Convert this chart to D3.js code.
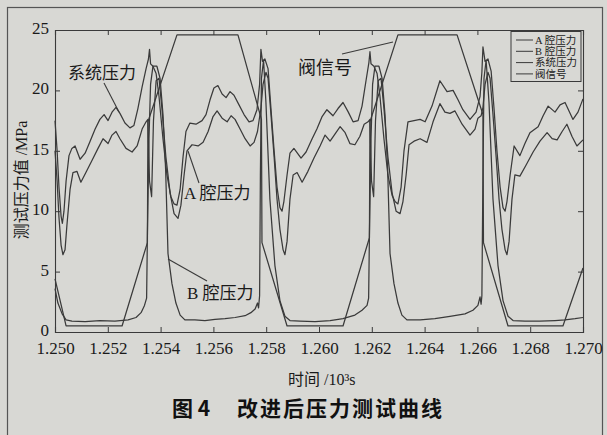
<!DOCTYPE html>
<html>
<head>
<meta charset="utf-8">
<script src="https://cdn.jsdelivr.net/npm/d3@7"></script>
<style>
  body { margin: 0; background: #d8d8d4; }
  svg { display: block; }
</style>
</head>
<body>
<div id="chart"></div>
<script>
// tick values
var xTicks = [1.250, 1.252, 1.254, 1.256, 1.258, 1.260, 1.262, 1.264, 1.266, 1.268, 1.270];
var yTicks = [0, 5, 10, 15, 20, 25];
var legendNames = ["A 腔压力", "B 腔压力", "系统压力", "阀信号"];

// [time /10^3 s, pressure /MPa]
var aPressure = [[1.25000,15.0],[1.25008,12.5],[1.25015,9.5],[1.25023,7.2],[1.25030,6.4],[1.25038,6.8],[1.25045,8.8],[1.25057,11.8],[1.25068,13.2],[1.25083,13.3],[1.25098,12.4],[1.25117,13.2],[1.25140,14.2],[1.25163,15.2],[1.25182,16.0],[1.25201,15.6],[1.25216,16.3],[1.25231,16.6],[1.25246,16.0],[1.25269,15.2],[1.25292,14.9],[1.25311,15.4],[1.25330,16.8],[1.25345,17.4],[1.25352,17.6],[1.25358,12.5],[1.25366,11.2],[1.25373,17.5],[1.25383,20.8],[1.25394,21.0],[1.25405,18.5],[1.25420,14.5],[1.25436,11.5],[1.25451,9.8],[1.25466,9.4],[1.25477,10.5],[1.25489,13.0],[1.25500,15.0],[1.25519,15.5],[1.25542,15.4],[1.25561,15.7],[1.25580,16.6],[1.25598,17.8],[1.25614,18.3],[1.25633,17.7],[1.25652,17.4],[1.25667,17.9],[1.25682,17.6],[1.25701,16.8],[1.25720,16.0],[1.25739,15.4],[1.25754,15.7],[1.25767,16.6],[1.25775,17.8],[1.25780,18.5],[1.25788,20.5],[1.25799,21.5],[1.25807,21.0],[1.25818,18.0],[1.25830,14.5],[1.25841,11.0],[1.25852,8.5],[1.25864,6.8],[1.25871,6.4],[1.25879,7.5],[1.25890,11.0],[1.25902,13.0],[1.25917,13.2],[1.25936,12.4],[1.25958,13.3],[1.25981,14.4],[1.26004,15.4],[1.26023,16.3],[1.26042,15.8],[1.26061,16.4],[1.26080,17.0],[1.26099,16.5],[1.26117,15.6],[1.26136,15.5],[1.26155,16.2],[1.26171,17.2],[1.26186,17.4],[1.26193,17.6],[1.26199,12.5],[1.26207,11.2],[1.26214,17.5],[1.26224,20.8],[1.26235,21.0],[1.26246,18.5],[1.26261,14.5],[1.26277,11.5],[1.26292,10.0],[1.26307,9.8],[1.26318,10.8],[1.26330,13.0],[1.26341,15.5],[1.26360,15.8],[1.26383,16.0],[1.26409,15.7],[1.26432,17.4],[1.26458,18.9],[1.26477,18.2],[1.26496,18.1],[1.26515,18.3],[1.26542,17.2],[1.26572,16.3],[1.26591,16.8],[1.26602,17.7],[1.26614,17.9],[1.26621,18.6],[1.26629,20.5],[1.26640,21.5],[1.26648,21.0],[1.26659,18.0],[1.26671,14.5],[1.26682,11.0],[1.26693,8.5],[1.26705,6.8],[1.26712,6.4],[1.26720,7.5],[1.26731,11.0],[1.26742,13.0],[1.26761,12.9],[1.26784,13.8],[1.26811,14.9],[1.26837,15.8],[1.26864,16.5],[1.26883,16.0],[1.26902,15.9],[1.26921,16.6],[1.26939,17.2],[1.26958,16.2],[1.26977,15.4],[1.27000,15.9]];

var bPressure = [[1.25000,3.6],[1.25011,2.4],[1.25027,1.5],[1.25042,1.0],[1.25064,0.9],[1.25114,0.85],[1.25170,0.95],[1.25227,0.9],[1.25277,1.0],[1.25307,1.2],[1.25326,1.6],[1.25339,2.2],[1.25347,2.8],[1.25350,8.0],[1.25356,16.0],[1.25362,20.5],[1.25371,22.0],[1.25386,22.0],[1.25398,21.0],[1.25409,18.0],[1.25419,13.5],[1.25428,6.5],[1.25443,4.0],[1.25458,2.4],[1.25474,1.4],[1.25492,1.0],[1.25530,1.0],[1.25568,0.95],[1.25606,1.05],[1.25644,1.1],[1.25682,1.2],[1.25720,1.35],[1.25742,1.6],[1.25758,1.9],[1.25767,2.4],[1.25771,2.0],[1.25775,3.0],[1.25778,13.0],[1.25782,21.0],[1.25790,22.5],[1.25799,19.0],[1.25814,11.0],[1.25833,5.5],[1.25852,2.6],[1.25871,1.3],[1.25890,0.95],[1.25928,0.9],[1.25985,0.85],[1.26042,0.95],[1.26091,1.1],[1.26136,1.4],[1.26163,1.8],[1.26182,2.2],[1.26188,2.8],[1.26191,8.0],[1.26197,16.0],[1.26203,20.5],[1.26212,22.0],[1.26227,22.0],[1.26239,21.0],[1.26250,18.0],[1.26260,13.5],[1.26269,6.5],[1.26284,4.0],[1.26299,2.4],[1.26314,1.4],[1.26333,1.0],[1.26383,1.0],[1.26439,1.1],[1.26496,1.3],[1.26553,1.5],[1.26583,1.8],[1.26602,2.2],[1.26610,2.9],[1.26614,2.3],[1.26617,3.0],[1.26621,13.0],[1.26625,21.0],[1.26633,22.5],[1.26644,19.0],[1.26659,11.0],[1.26678,5.5],[1.26697,2.6],[1.26716,1.3],[1.26735,0.95],[1.26780,0.9],[1.26837,0.9],[1.26894,0.95],[1.26932,1.0],[1.26970,1.1],[1.27000,1.2]];

var systemPressure = [[1.25000,17.5],[1.25008,15.0],[1.25015,12.0],[1.25023,9.6],[1.25028,9.0],[1.25034,10.0],[1.25042,12.5],[1.25053,14.6],[1.25064,15.2],[1.25076,15.4],[1.25095,14.3],[1.25114,14.8],[1.25133,15.8],[1.25152,16.8],[1.25170,17.6],[1.25186,18.0],[1.25201,17.5],[1.25216,18.2],[1.25231,18.6],[1.25246,18.1],[1.25265,17.3],[1.25284,16.9],[1.25299,17.1],[1.25314,18.5],[1.25330,20.3],[1.25345,21.8],[1.25354,22.6],[1.25358,23.4],[1.25362,22.2],[1.25371,22.0],[1.25383,21.4],[1.25394,19.5],[1.25409,16.0],[1.25424,13.0],[1.25439,11.2],[1.25451,10.6],[1.25462,10.5],[1.25474,11.8],[1.25485,14.5],[1.25496,16.6],[1.25511,17.3],[1.25534,17.2],[1.25557,17.5],[1.25572,18.0],[1.25587,19.2],[1.25602,20.2],[1.25617,20.4],[1.25633,19.7],[1.25648,19.4],[1.25663,19.9],[1.25678,19.6],[1.25697,18.8],[1.25716,18.0],[1.25735,17.4],[1.25750,17.5],[1.25765,18.4],[1.25775,20.5],[1.25780,23.4],[1.25786,22.4],[1.25795,22.6],[1.25807,21.8],[1.25818,18.5],[1.25830,15.0],[1.25841,12.0],[1.25852,10.3],[1.25860,10.0],[1.25867,10.8],[1.25879,13.0],[1.25890,14.8],[1.25905,15.2],[1.25932,14.4],[1.25951,14.9],[1.25974,16.0],[1.25992,16.8],[1.26011,17.8],[1.26030,18.4],[1.26053,17.9],[1.26072,18.5],[1.26091,19.0],[1.26111,18.2],[1.26129,17.4],[1.26148,17.5],[1.26163,18.7],[1.26178,20.8],[1.26189,22.3],[1.26193,23.2],[1.26197,22.2],[1.26208,22.0],[1.26220,21.4],[1.26231,19.5],[1.26246,16.0],[1.26261,13.0],[1.26277,11.3],[1.26288,10.8],[1.26299,10.6],[1.26311,12.0],[1.26322,15.0],[1.26337,17.4],[1.26360,17.5],[1.26383,17.6],[1.26402,17.4],[1.26428,18.7],[1.26458,20.8],[1.26485,19.9],[1.26508,20.0],[1.26527,19.2],[1.26545,18.4],[1.26572,17.6],[1.26595,18.2],[1.26610,19.5],[1.26617,21.5],[1.26621,23.6],[1.26629,22.4],[1.26640,22.6],[1.26652,21.6],[1.26663,18.5],[1.26674,15.0],[1.26686,12.0],[1.26697,10.3],[1.26705,10.0],[1.26712,10.8],[1.26724,13.0],[1.26739,15.4],[1.26761,14.6],[1.26780,15.6],[1.26799,16.5],[1.26830,17.0],[1.26849,17.9],[1.26868,18.7],[1.26894,18.2],[1.26913,18.8],[1.26932,19.0],[1.26947,18.3],[1.26962,17.6],[1.26981,18.2],[1.27000,19.3]];

var valveSignal = [[1.25000,4.4],[1.25042,0.5],[1.25254,0.5],[1.25350,7.4],[1.25352,17.4],[1.25462,24.6],[1.25693,24.6],[1.25782,17.6],[1.25784,7.4],[1.25879,0.5],[1.26091,0.5],[1.26191,7.8],[1.26193,17.4],[1.26299,24.6],[1.26523,24.6],[1.26621,18.0],[1.26623,7.4],[1.26716,0.5],[1.26924,0.5],[1.27000,5.3]];

var width = 607, height = 435;
var plotL = 55, plotR = 583, plotT = 30, plotB = 332;
var ink = "#3a3a3a";
var serif = "'Liberation Serif','Noto Sans CJK SC',serif";
var cjk = "'Noto Sans CJK SC',sans-serif";

var svg = d3.select("#chart")
  .append("svg")
  .attr("width", width)
  .attr("height", height);

svg.append("rect")
  .attr("width", width).attr("height", height)
  .attr("fill", "#d8d8d4");

// outer frame of the figure
svg.append("rect")
  .attr("x", 7.5).attr("y", 7.5)
  .attr("width", 595).attr("height", 440)
  .attr("fill", "none").attr("stroke", "#555").attr("stroke-width", 1.2);

var x = d3.scaleLinear().domain([1.250, 1.270]).range([plotL, plotR]);
var y = d3.scaleLinear().domain([0, 25]).range([plotB, plotT]);

// axes, ticks pointing inwards on all four sides
var gx = svg.append("g").attr("transform", "translate(0," + plotB + ")")
  .call(d3.axisBottom(x).tickValues(xTicks).tickSize(-5).tickPadding(10).tickFormat(d3.format(".3f")));
var gxt = svg.append("g").attr("transform", "translate(0," + plotT + ")")
  .call(d3.axisTop(x).tickValues(xTicks).tickSize(-5).tickFormat(""));
var gy = svg.append("g").attr("transform", "translate(" + plotL + ",0)")
  .call(d3.axisLeft(y).tickValues(yTicks).tickSize(-5).tickPadding(6));
var gyr = svg.append("g").attr("transform", "translate(" + plotR + ",0)")
  .call(d3.axisRight(y).tickValues(yTicks).tickSize(-5).tickFormat(""));

[gx, gxt, gy, gyr].forEach(function(g) {
  g.selectAll("path.domain").attr("stroke", ink).attr("stroke-width", 1.1);
  g.selectAll(".tick line").attr("stroke", ink);
  g.selectAll("text")
    .attr("fill", "#1a1a1a")
    .style("font-family", serif)
    .style("font-size", "17px");
});
gy.selectAll("text").attr("dy", "0.2em");

// curves
var line = d3.line()
  .x(function(d) { return x(d[0]); })
  .y(function(d) { return y(d[1]); });

[aPressure, bPressure, systemPressure, valveSignal].forEach(function(s) {
  svg.append("path")
    .datum(s)
    .attr("d", line)
    .attr("fill", "none")
    .attr("stroke", ink)
    .attr("stroke-width", 1.25)
    .attr("stroke-linejoin", "round");
});

// legend
var lg = svg.append("g");
lg.append("rect")
  .attr("x", 511).attr("y", 31.5).attr("width", 70).attr("height", 50)
  .attr("fill", "#d8d8d4").attr("stroke", ink).attr("stroke-width", 1);
legendNames.forEach(function(name, i) {
  var ly = 40 + i * 11.3;
  lg.append("line")
    .attr("x1", 516).attr("x2", 533).attr("y1", ly).attr("y2", ly)
    .attr("stroke", ink).attr("stroke-width", 1);
  lg.append("text")
    .attr("x", 535).attr("y", ly)
    .attr("dy", "0.35em")
    .style("font-family", serif)
    .style("font-size", "10.5px")
    .attr("fill", "#222")
    .text(name);
});

// annotations with leader lines
var notes = [
  { text: "系统压力", tx: 68, ty: 73, x1: 104, y1: 83, x2: 119, y2: 112, size: 17 },
  { text: "A 腔压力", tx: 184, ty: 193, x1: 199, y1: 183, x2: 188, y2: 151, size: 17 },
  { text: "B 腔压力", tx: 187, ty: 293, x1: 207, y1: 281, x2: 168, y2: 259, size: 17 },
  { text: "阀信号", tx: 298, ty: 68, x1: 342, y1: 54, x2: 393, y2: 42, size: 18 }
];
notes.forEach(function(n) {
  svg.append("line")
    .attr("x1", n.x1).attr("y1", n.y1).attr("x2", n.x2).attr("y2", n.y2)
    .attr("stroke", ink).attr("stroke-width", 1.1);
  svg.append("text")
    .attr("x", n.tx).attr("y", n.ty)
    .attr("dy", "0.35em")
    .style("font-family", serif)
    .style("font-size", n.size + "px")
    .attr("fill", "#1a1a1a")
    .text(n.text);
});

// axis titles
svg.append("text")
  .attr("transform", "translate(21,180) rotate(-90)")
  .attr("text-anchor", "middle")
  .attr("dy", "0.35em")
  .style("font-family", serif)
  .style("font-size", "16px")
  .attr("fill", "#1a1a1a")
  .text("测试压力值 /MPa");

svg.append("text")
  .attr("x", 288).attr("y", 379)
  .attr("dy", "0.35em")
  .style("font-family", serif)
  .style("font-size", "16px")
  .attr("fill", "#1a1a1a")
  .text("时间 /10³s");

// caption
svg.append("text")
  .attr("x", 172).attr("y", 409)
  .attr("dy", "0.35em")
  .style("font-family", cjk)
  .style("font-size", "21px")
  .style("font-weight", "bold")
  .attr("fill", "#111")
  .text("图 4");
svg.append("text")
  .attr("x", 237).attr("y", 409)
  .attr("dy", "0.35em")
  .attr("textLength", 205)
  .style("font-family", cjk)
  .style("font-size", "21px")
  .style("font-weight", "bold")
  .attr("fill", "#111")
  .text("改进后压力测试曲线");
</script>
</body>
</html>
